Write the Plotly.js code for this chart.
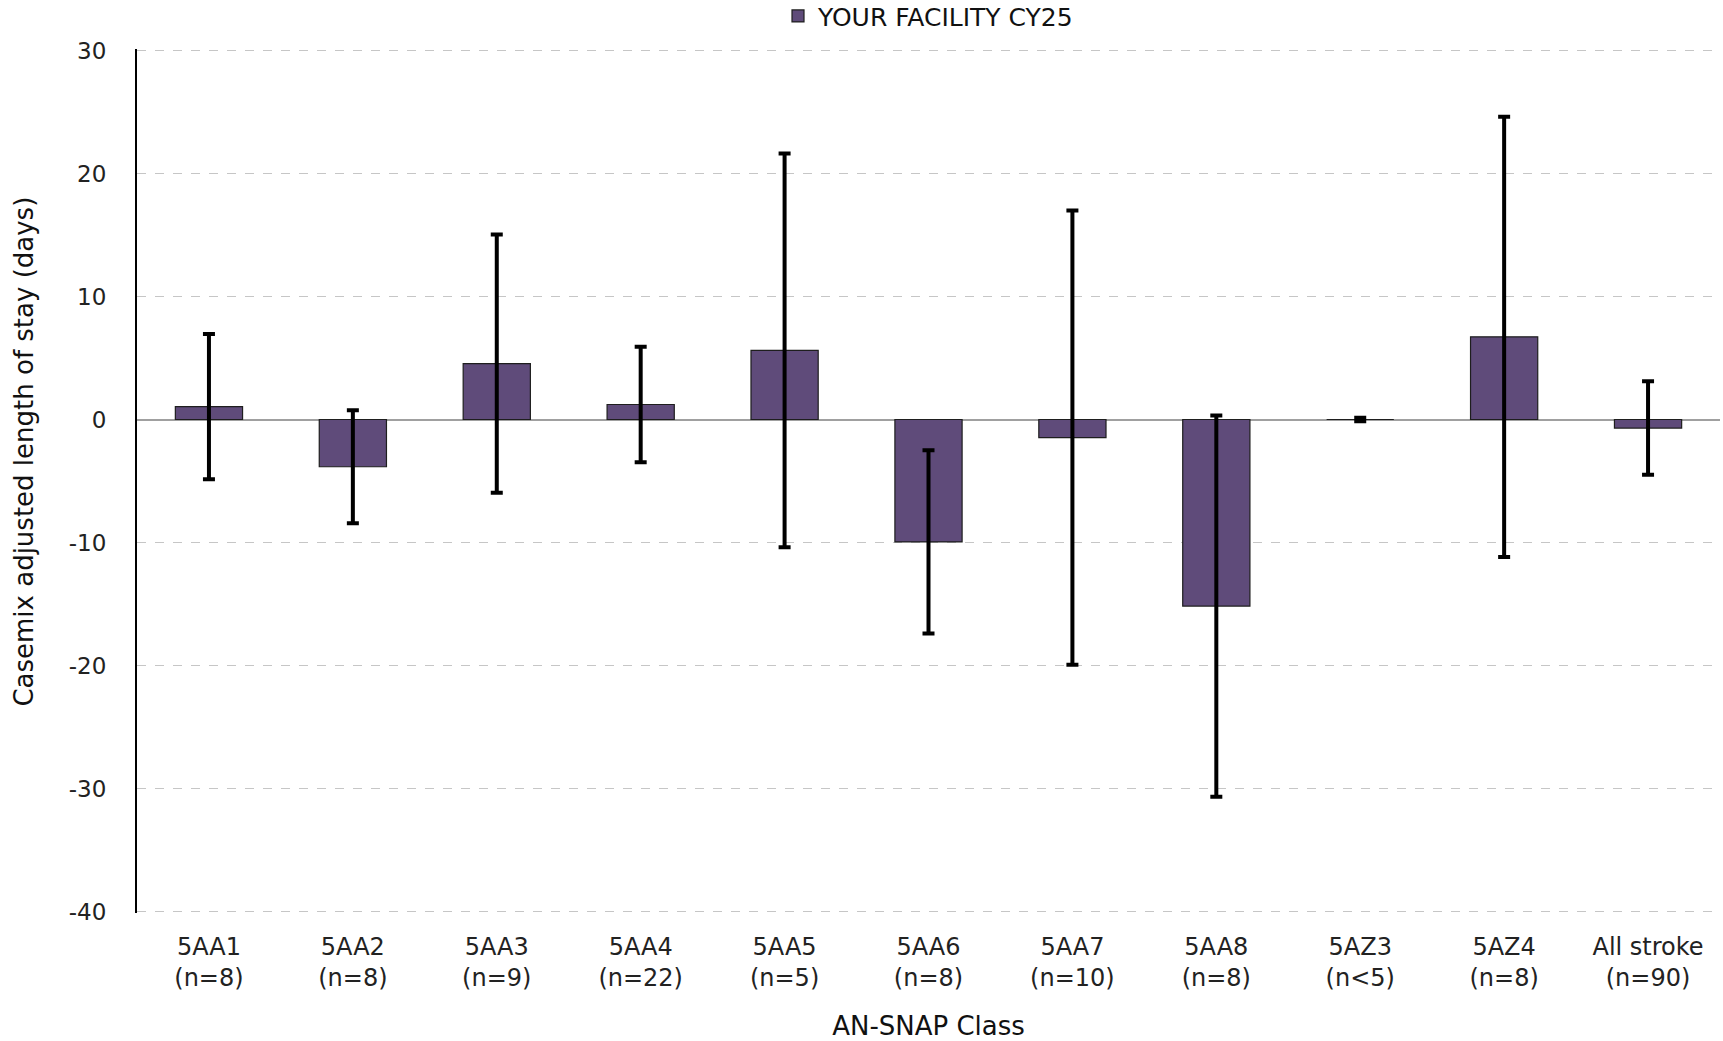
<!DOCTYPE html>
<html>
<head>
<meta charset="utf-8">
<script src="https://cdn.plot.ly/plotly-3.0.1.min.js"></script>
<style>
  html, body { margin: 0; padding: 0; background: #ffffff; }
  #chart { width: 1723px; height: 1041px; }
</style>
</head>
<body>
<div id="chart"></div>
<script>
// AN-SNAP classes and counts (tick labels)
const classes = ['5AA1', '5AA2', '5AA3', '5AA4', '5AA5', '5AA6', '5AA7', '5AA8', '5AZ3', '5AZ4', 'All stroke'];
const counts  = ['(n=8)', '(n=8)', '(n=9)', '(n=22)', '(n=5)', '(n=8)', '(n=10)', '(n=8)', '(n<5)', '(n=8)', '(n=90)'];

// Casemix adjusted length of stay (days) – YOUR FACILITY CY25
const losValues = [1.05, -3.84, 4.54, 1.22, 5.62, -9.95, -1.47, -15.17, 0, 6.72, -0.7];
// Error bar half-lengths (days)
const losError  = [5.9, 4.6, 10.5, 4.7, 16.0, 7.45, 18.47, 15.5, 0.15, 17.9, 3.8];

const seriesName = 'YOUR FACILITY CY25';
const yTicks = [-40, -30, -20, -10, 0, 10, 20, 30];

const tickLabels = classes.map((c, i) => c + '<br>' + counts[i]);

const FONT = 'DejaVu Sans, Noto Sans, sans-serif';

const trace = {
  type: 'bar',
  name: seriesName,
  x: tickLabels,
  y: losValues,
  marker: { color: '#5F4B7A', line: { color: '#1E1E1E', width: 1.2 } },
  error_y: {
    type: 'data',
    array: losError,
    symmetric: true,
    visible: true,
    color: '#000000',
    thickness: 4,
    width: 6
  },
  showlegend: true,
  hoverinfo: 'x+y'
};

const layout = {
  width: 1723,
  height: 1041,
  paper_bgcolor: '#ffffff',
  plot_bgcolor: '#ffffff',
  margin: { l: 137, r: 3, t: 49, b: 128, pad: 0, autoexpand: false },
  font: { family: FONT, size: 22, color: '#222222' },
  bargap: 0.533,
  showlegend: true,
  legend: {
    orientation: 'h',
    x: 0.5, xanchor: 'center',
    y: 1.038, yanchor: 'middle',
    font: { family: FONT, size: 25, color: '#111111' },
    bgcolor: 'rgba(0,0,0,0)'
  },
  xaxis: {
    type: 'category',
    showgrid: false,
    showline: false,
    zeroline: false,
    ticks: '',
    ticklabelstandoff: 17,
    tickfont: { family: FONT, size: 24, color: '#222222' },
    title: { text: 'AN-SNAP Class', font: { family: FONT, size: 26, color: '#111111' }, standoff: 28 },
    automargin: false
  },
  yaxis: {
    range: [-40.12, 30.12],
    tickvals: yTicks,
    ticktext: yTicks.map(String),
    showgrid: true,
    gridcolor: '#C6C6C6',
    gridwidth: 1.5,
    griddash: 'dash',
    zeroline: true,
    zerolinecolor: '#A0A0A0',
    zerolinewidth: 2,
    showline: true,
    linecolor: '#000000',
    linewidth: 2,
    ticks: '',
    ticklabelstandoff: 24,
    tickfont: { family: FONT, size: 23, color: '#222222' },
    automargin: false
  },
  annotations: [{
    text: 'Casemix adjusted length of stay (days)',
    textangle: -90,
    xref: 'paper', yref: 'paper',
    x: 0, y: 0.534,
    xanchor: 'center', yanchor: 'middle',
    xshift: -113,
    showarrow: false,
    font: { family: FONT, size: 26, color: '#111111' }
  }]
};

Plotly.newPlot('chart', [trace], layout, { displayModeBar: false, staticPlot: true });
</script>
</body>
</html>
